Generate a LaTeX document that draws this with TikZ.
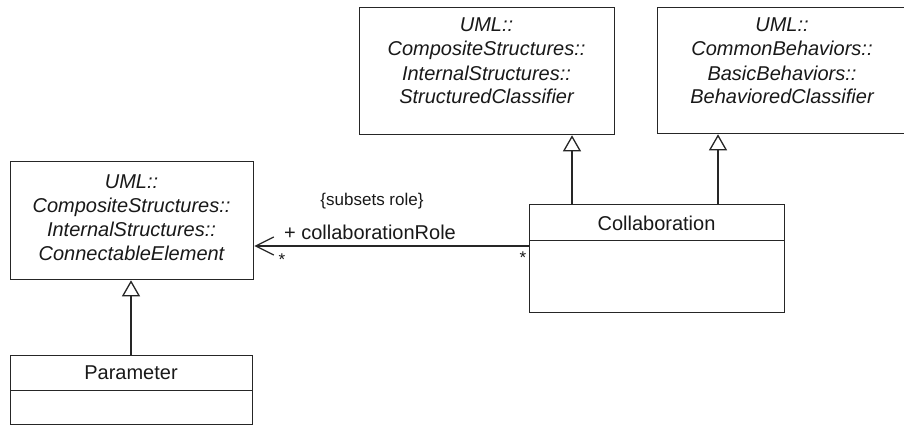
\documentclass[tikz,border=0pt]{standalone}
\usepackage{fontspec}
\setmainfont{Liberation Sans}
\usetikzlibrary{arrows.meta}
\begin{document}
\begin{tikzpicture}[x=1pt,y=-1pt,
  box/.style={draw=black!85, line width=1.3pt, rectangle, inner sep=0pt, anchor=north west, fill=white},
  cname/.style={font=\fontsize{20}{24}\selectfont, text=black!90, inner sep=0pt, anchor=base},
  iname/.style={font=\fontsize{20}{24}\selectfont\itshape, text=black!90, align=center, inner sep=0pt, anchor=base},
  gen/.style={draw=black!85, line width=1.3pt, -{Triangle[open,length=16pt,width=18pt,fill=white]}},
  assoc/.style={draw=black!85, line width=1.3pt, -{Straight Barb[length=18pt,width=18pt]}},
  lbl/.style={font=\fontsize{20}{24}\selectfont, text=black!90, inner sep=0pt},
  slbl/.style={font=\fontsize{17}{20}\selectfont, text=black!90, inner sep=0pt}]
\clip (0,0) rectangle (904,425);
\fill[white] (0,0) rectangle (904,425);
% ConnectableElement
\node[box, minimum width=243pt, minimum height=118pt] (ce) at (10,161) {};
\node[iname] (ceT) at (131.5,260) {UML::\\CompositeStructures::\\InternalStructures::\\ConnectableElement};
% StructuredClassifier
\node[box, minimum width=255pt, minimum height=127pt] (sc) at (359,7) {};
\node[iname] (scT) at (486.5,104) {UML::\\CompositeStructures::\\InternalStructures::\\StructuredClassifier};
% BehavioredClassifier
\node[box, minimum width=250pt, minimum height=126pt] (bc) at (657,7) {};
\node[iname] (bcT) at (782,104) {UML::\\CommonBehaviors::\\BasicBehaviors::\\BehavioredClassifier};
% Collaboration
\node[box, minimum width=255pt, minimum height=36pt] (colN) at (529,204) {};
\node[box, minimum width=255pt, minimum height=72pt] (colB) at (529,240) {};
\node[cname] (colT) at (656.5,230) {Collaboration};
% Parameter
\node[box, minimum width=242pt, minimum height=35pt] (parN) at (10,355) {};
\node[box, minimum width=242pt, minimum height=34pt] (parB) at (10,390) {};
\node[cname] (parT) at (131,379) {Parameter};
% generalizations
\coordinate (g1) at (572,0);
\coordinate (g2) at (718,0);
\coordinate (g3) at (131,0);
\draw[gen] (g1 |- colN.north) -- (g1 |- sc.south);
\draw[gen] (g2 |- colN.north) -- (g2 |- bc.south);
\draw[gen] (g3 |- parN.north) -- (g3 |- ce.south);
% association
\coordinate (a) at (0,246);
\draw[assoc] (a -| colB.west) -- (a -| ce.east);
\node[slbl] (sub) at (372,201) {\{subsets role\}};
\node[lbl] (role) at (370,232) {+ collaborationRole};
\node[slbl] (m1) at (282,260) {*};
\node[slbl] (m2) at (523,258) {*};
\end{tikzpicture}
\end{document}
